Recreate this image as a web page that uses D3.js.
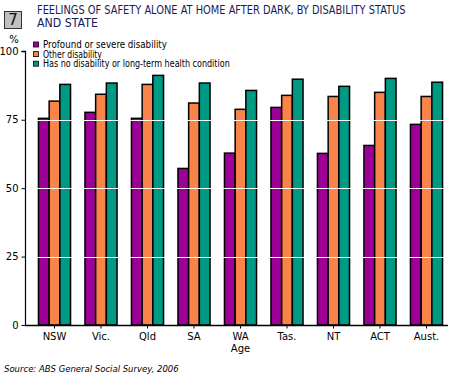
<!DOCTYPE html>
<html><head><meta charset="utf-8">
<script src="https://cdn.jsdelivr.net/npm/d3@7"></script>
<style>body{margin:0;background:#fff}svg{display:block}text{font-family:Tahoma,"DejaVu Sans","Liberation Sans",sans-serif}</style>
</head><body>
<script>
const categories = ["NSW","Vic.","Qld","SA","WA","Tas.","NT","ACT","Aust."];
const seriesNames = ["Profound or severe disability","Other disability","Has no disability or long-term health condition"];
const profound = [75.5,77.7,75.5,57.2,62.8,79.5,62.7,65.6,73.3];
const other = [81.8,84.3,87.9,81.1,78.8,83.9,83.5,85.0,83.5];
const noDisability = [87.9,88.4,91.2,88.4,85.7,89.8,87.2,90.1,88.7];
const yTicks = [0,25,50,75,100];
const colors = ["#9c0096","#f8844a","#009984"];

const W=454,H=378;
const svg=d3.select("body").append("svg").attr("width",W).attr("height",H);
const series=[profound,other,noDisability];

const x=d3.scaleBand().domain(categories).range([31.25,449.75]).paddingInner(0.31).paddingOuter(0.155);
const xs=d3.scaleBand().domain(d3.range(3)).range([0,x.bandwidth()]);
const y=d3.scaleLinear().domain([0,100]).range([325,51.3]);

// horizontally squeeze a text to a target width using a transform
function squeeze(sel,x0,y0,w){sel.each(function(){const l=this.getComputedTextLength();const k=l>0?w/l:1;d3.select(this).attr("x",0).attr("y",0).attr("transform",`translate(${x0},${y0}) scale(${k},1)`);});}

// number box
svg.append("rect").attr("x",4.5).attr("y",11.5).attr("width",17).attr("height",17).attr("fill","#c0c0c0").attr("stroke","#333").attr("stroke-width",1);
svg.append("text").attr("x",13).attr("y",25).attr("text-anchor","middle").attr("font-size",15).attr("fill","#111").text("7");
// title
svg.append("text").attr("font-size",11.5).attr("fill","#1a1a5a").text("FEELINGS OF SAFETY ALONE AT HOME AFTER DARK, BY DISABILITY STATUS").call(squeeze,37,14,369);
svg.append("text").attr("font-size",11.5).attr("fill","#1a1a5a").text("AND STATE").call(squeeze,37,27,61);

// bars
const g=svg.append("g");
categories.forEach((c,i)=>{
  series.forEach((s,j)=>{
    g.append("rect").attr("x",x(c)+xs(j)).attr("width",xs.bandwidth())
     .attr("y",y(s[i])).attr("height",y(0)-y(s[i]))
     .attr("fill",colors[j]).attr("stroke","#000").attr("stroke-width",1.5);
  });
});
// white gridlines over bars
yTicks.filter(t=>t>0&&t<100).forEach(t=>{
  svg.append("line").attr("x1",30).attr("x2",446).attr("y1",Math.round(y(t))+0.5).attr("y2",Math.round(y(t))+0.5).attr("stroke","#fff").attr("stroke-width",1.2);
});

// y axis
const ya=d3.axisLeft(y).tickValues(yTicks).tickSize(4).tickPadding(3);
const yg=svg.append("g").attr("transform","translate(25.5,0)").call(ya);
yg.select(".domain").attr("stroke","#000").attr("stroke-width",1.2).attr("d",`M-4,${y(100)}H0V${y(0)}`);
yg.selectAll("text").attr("font-size",10).attr("fill","#000");
yg.selectAll("line").attr("stroke","#000");
svg.append("text").attr("x",14).attr("y",43).attr("text-anchor","middle").attr("font-size",10).text("%");

// x axis
const xa=d3.axisBottom(x).tickSize(3).tickPadding(4);
const xg=svg.append("g").attr("transform",`translate(0,${y(0)+0.5})`).call(xa);
xg.select(".domain").attr("d","M25,0H448").attr("stroke","#000").attr("stroke-width",1.5);
xg.selectAll("line").attr("stroke","#000");
xg.selectAll("text").attr("font-size",10).attr("fill","#000");
svg.append("text").attr("x",x("WA")+x.bandwidth()/2).attr("y",352).attr("text-anchor","middle").attr("font-size",10).text("Age");

// legend
const legW=[124,59,187];
seriesNames.forEach((n,j)=>{
  const cy=44.5+j*9.6;
  svg.append("rect").attr("x",33.5).attr("y",cy-2.5).attr("width",5).attr("height",5).attr("fill",colors[j]).attr("stroke","#000").attr("stroke-width",0.8);
  svg.append("text").attr("font-size",10).attr("fill","#000").text(n).call(squeeze,43,cy+3.5,legW[j]);
});

// source
svg.append("text").attr("font-size",9.5).attr("font-style","italic").text("Source: ABS General Social Survey, 2006").call(squeeze,4,372,175);
</script>
</body></html>
